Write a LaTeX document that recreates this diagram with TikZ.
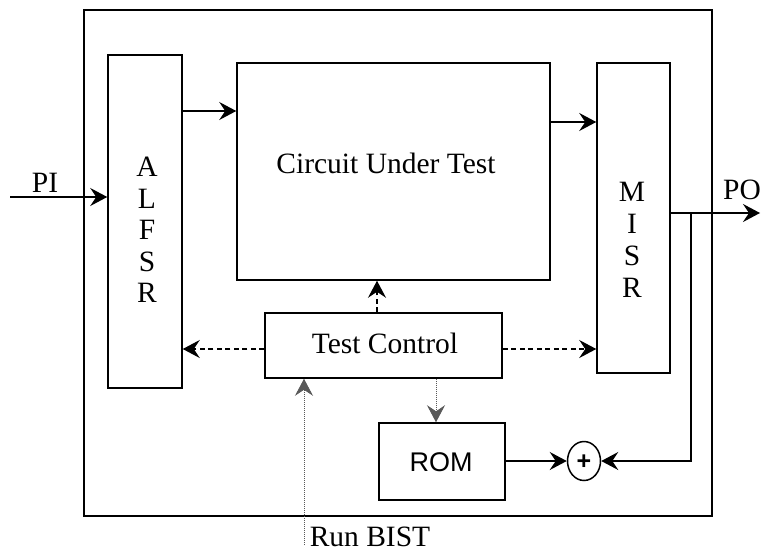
\documentclass[tikz,border=0pt]{standalone}
\usepackage{fontspec}
\setmainfont{Liberation Serif}
\newfontfamily\arialfont{Liberation Sans}
\usetikzlibrary{arrows.meta,shapes.geometric}
\begin{document}
\begin{tikzpicture}[x=1pt,y=-1pt,
  box/.style={draw,line width=1.5pt,rectangle,inner sep=0pt},
  lbl/.style={font=\fontsize{29.5}{31.5}\selectfont},
  tip/.style={-{Stealth[length=17pt,width=18pt,inset=6pt]}},
  sig/.style={tip,line width=1.5pt},
  ctl/.style={tip,line width=1.4pt,dash pattern=on 5pt off 3.5pt},
  dot/.style={tip,line width=0.9pt,dash pattern=on 1pt off 1pt}]
\useasboundingbox (0,0) rectangle (762,554);

% chip outline and blocks
\node[box,line width=2.8pt,minimum width=628pt,minimum height=506pt] (chip) at (398,263) {};
\node[box,minimum width=74pt,minimum height=333pt] (alfsr) at (145,221.5) {};
\node[box,minimum width=313pt,minimum height=217pt] (cut) at (393.5,171.5) {};
\node[box,minimum width=73pt,minimum height=310pt] (misr) at (633.5,218) {};
\node[box,minimum width=237pt,minimum height=65pt] (tc) at (383.5,345.5) {};
\node[box,minimum width=126pt,minimum height=77pt] (rom) at (442,461.5) {};
\node[draw,line width=1.5pt,ellipse,inner sep=0pt,minimum width=33pt,minimum height=39pt] (xor) at (584,461) {};

% texts
\node[lbl,align=center] (alfsrt) at (147,230) {A\\L\\F\\S\\R};
\node[lbl,align=center,font=\fontsize{29.5}{32}\selectfont] (misrt) at (632,240) {M\\I\\S\\R};
\node[lbl] (cutt) at (386,163) {Circuit Under Test};
\node[lbl] (tct) at (385,343) {Test Control};
\node[font=\arialfont\fontsize{27}{30}\selectfont] (romt) at (441,462) {ROM};
\node[font=\arialfont\bfseries\fontsize{25}{28}\selectfont] (plus) at (584,462) {+};
\node[lbl] (pit) at (45,183) {PI};
\node[lbl] (pot) at (742,190) {PO};
\node[lbl,inner sep=0pt] (runt) at (370,537) {Run BIST};

% free ends and bends
\coordinate (pi) at (10,197);
\coordinate (po) at (760,213);
\coordinate (fbtop) at (691,213);
\coordinate (fbbot) at (691,461);
\coordinate (run) at (304,545);

% data path
\draw[sig] (pi) -- (alfsr.west |- pi);
\draw[sig] (alfsr.east |- 0,111) -- (cut.west |- 0,111);
\draw[sig] (cut.east |- 0,122) -- (misr.west |- 0,122);
\draw[sig] (misr.east |- po) -- (po);
\draw[sig] (fbtop) -- (fbbot) -- (xor.east);
\draw[sig] (rom.east |- xor) -- (xor.west);

% test control signals
\draw[ctl] (tc.north -| 377,0) -- (cut.south -| 377,0);
\draw[ctl] (tc.west |- 0,349) -- (alfsr.east |- 0,349);
\draw[ctl] (tc.east |- 0,349) -- (misr.west |- 0,349);
\draw[dot,gray!70!black] (tc.south -| 436,0) -- (rom.north -| 436,0);
\draw[dot,gray!70!black] (run) -- (tc.south -| run);
\end{tikzpicture}
\end{document}
